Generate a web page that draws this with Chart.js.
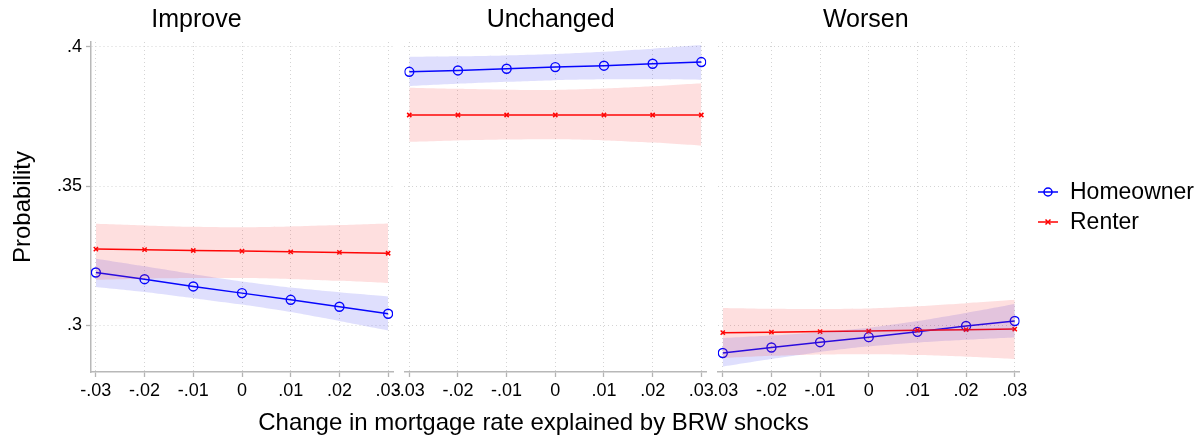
<!DOCTYPE html>
<html>
<head>
<meta charset="utf-8">
<script src="https://cdn.jsdelivr.net/npm/chart.js@4"></script>
<style>
  body { margin: 0; background: #fff; }
  #wrap { position: relative; width: 1204px; height: 442px; font-family: "Liberation Sans", Arial, sans-serif; }
  canvas { position: absolute; top: 0; }
  #xtitle { position: absolute; left: 0; width: 1067px; top: 408px; text-align: center; font-size: 24px; color: #000; }
</style>
</head>
<body>
<div id="wrap">
  <canvas id="improve" style="left:0px" width="400" height="442"></canvas>
  <canvas id="unchanged" style="left:395px" width="320" height="442"></canvas>
  <canvas id="worsen" style="left:712px" width="492" height="442"></canvas>
  <div id="xtitle">Change in mortgage rate explained by BRW shocks</div>
</div>
<script>
const xValues = [-0.03, -0.02, -0.01, 0, 0.01, 0.02, 0.03];
const xTickLabels = ['-.03', '-.02', '-.01', '0', '.01', '.02', '.03'];
const yTicks = [0.3, 0.35, 0.4];
const yTickLabels = ['.3', '.35', '.4'];
const panelTitles = ['Improve', 'Unchanged', 'Worsen'];
const seriesNames = ['Homeowner', 'Renter'];

// Improve
const improveOwner = [0.3190, 0.3166, 0.3140, 0.3116, 0.3092, 0.3067, 0.3042];
const improveOwnerLo = [0.3138, 0.3120, 0.3098, 0.3075, 0.3048, 0.3016, 0.2982];
const improveOwnerHi = [0.3239, 0.3212, 0.3184, 0.3158, 0.3136, 0.3119, 0.3104];
const improveRenter = [0.3274, 0.3272, 0.3269, 0.3267, 0.3264, 0.3262, 0.3259];
const improveRenterLo = [0.3164, 0.3168, 0.3170, 0.3170, 0.3166, 0.3160, 0.3152];
const improveRenterHi = [0.3365, 0.3359, 0.3354, 0.3352, 0.3355, 0.3360, 0.3366];

// Unchanged
const unchOwner = [0.3910, 0.3915, 0.3921, 0.3927, 0.3932, 0.3939, 0.3945];
const unchOwnerLo = [0.3859, 0.3867, 0.3874, 0.3880, 0.3883, 0.3883, 0.3881];
const unchOwnerHi = [0.3964, 0.3966, 0.3969, 0.3974, 0.3982, 0.3993, 0.4006];
const unchRenter = [0.3755, 0.3755, 0.3755, 0.3755, 0.3755, 0.3755, 0.3755];
const unchRenterLo = [0.3659, 0.3664, 0.3667, 0.3668, 0.3664, 0.3656, 0.3645];
const unchRenterHi = [0.3853, 0.3849, 0.3846, 0.3845, 0.3850, 0.3858, 0.3869];

// Worsen
const worsOwner = [0.2901, 0.2921, 0.2940, 0.2958, 0.2977, 0.2998, 0.3016];
const worsOwnerLo = [0.2853, 0.2880, 0.2905, 0.2925, 0.2939, 0.2949, 0.2957];
const worsOwnerHi = [0.2955, 0.2964, 0.2976, 0.2992, 0.3016, 0.3045, 0.3077];
const worsRenter = [0.2974, 0.2976, 0.2978, 0.2980, 0.2983, 0.2985, 0.2987];
const worsRenterLo = [0.2883, 0.2891, 0.2896, 0.2897, 0.2894, 0.2888, 0.2880];
const worsRenterHi = [0.3063, 0.3060, 0.3059, 0.3061, 0.3069, 0.3080, 0.3092];

const FONT = '"Liberation Sans", Arial, sans-serif';
const blue = '#0000ff';
const red = '#ff0000';
const blueBand = 'rgba(40, 40, 240, 0.15)';
const redBand = 'rgba(245, 40, 40, 0.15)';

function pts(arr) {
  return xValues.map((x, i) => ({ x: x, y: arr[i] }));
}

function bandSets(lo, hi, color) {
  return [
    { data: pts(hi), borderWidth: 0, pointRadius: 0, backgroundColor: color, fill: '+1', tension: 0.2 },
    { data: pts(lo), borderWidth: 0, pointRadius: 0, fill: false, tension: 0.2 }
  ];
}

// legend drawn next to the last panel
const legendPlugin = {
  id: 'sideLegend',
  afterDraw(chart) {
    if (!chart.options.plugins.sideLegend || !chart.options.plugins.sideLegend.show) return;
    const ctx = chart.ctx;
    const x0 = 326, x1 = 346, tx = 358;
    const rows = [{ y: 192, c: blue, m: 'circle' }, { y: 222, c: red, m: 'cross' }];
    ctx.save();
    rows.forEach((r, i) => {
      ctx.strokeStyle = r.c;
      ctx.lineWidth = 1.5;
      ctx.beginPath(); ctx.moveTo(x0, r.y); ctx.lineTo(x1, r.y); ctx.stroke();
      const cx = (x0 + x1) / 2;
      ctx.beginPath();
      if (r.m === 'circle') {
        ctx.arc(cx, r.y, 4, 0, Math.PI * 2);
      } else {
        ctx.moveTo(cx - 2.5, r.y - 2.5); ctx.lineTo(cx + 2.5, r.y + 2.5);
        ctx.moveTo(cx + 2.5, r.y - 2.5); ctx.lineTo(cx - 2.5, r.y + 2.5);
      }
      ctx.stroke();
      ctx.fillStyle = '#000';
      ctx.font = '23px ' + FONT;
      ctx.textBaseline = 'middle';
      ctx.textAlign = 'left';
      ctx.fillText(seriesNames[i], tx, r.y + 1);
    });
    ctx.restore();
  }
};

function makePanel(id, idx, owner, ownerLo, ownerHi, renter, renterLo, renterHi, yWidth, padRight, showLegend) {
  const first = idx === 0;
  return new Chart(document.getElementById(id), {
    type: 'line',
    data: {
      datasets: [
        ...bandSets(renterLo, renterHi, redBand),
        ...bandSets(ownerLo, ownerHi, blueBand),
        {
          label: seriesNames[1], data: pts(renter), borderColor: red, borderWidth: 1.5,
          pointStyle: 'crossRot', pointRadius: 3, pointBorderColor: red, pointBorderWidth: 1.5, fill: false, tension: 0
        },
        {
          label: seriesNames[0], data: pts(owner), borderColor: blue, borderWidth: 1.5,
          pointStyle: 'circle', pointRadius: 4.5, pointBorderColor: blue, pointBackgroundColor: 'rgba(0,0,0,0)',
          pointBorderWidth: 1.4, fill: false, tension: 0
        }
      ]
    },
    options: {
      responsive: false,
      animation: false,
      events: [],
      layout: { padding: { left: 0, right: padRight, top: 0, bottom: 0 } },
      plugins: {
        legend: { display: false },
        tooltip: { enabled: false },
        sideLegend: { show: showLegend },
        title: {
          display: true, text: panelTitles[idx], color: '#000',
          font: { family: FONT, size: 25, weight: 'normal', lineHeight: 1.2 },
          padding: { top: 5, bottom: 7 }
        }
      },
      scales: {
        x: {
          type: 'linear', min: -0.031, max: 0.031,
          afterBuildTicks: s => { s.ticks = xValues.map(v => ({ value: v })); },
          afterFit: s => { s.height = 70; s.paddingLeft = 0; s.paddingRight = 0; },
          ticks: {
            autoSkip: false, maxRotation: 0, padding: 3, color: '#000',
            font: { family: FONT, size: 18 },
            callback: (v, i) => xTickLabels[i]
          },
          grid: { color: '#d4d4d4', lineWidth: 1, tickLength: 5, tickColor: '#b4b4b4', tickWidth: 1.3 },
          border: { display: true, color: '#b8b8b8', width: 1.5, dash: [1, 3] }
        },
        y: {
          min: 0.2833, max: 0.4017,
          afterBuildTicks: s => { s.ticks = yTicks.map(v => ({ value: v })); },
          afterFit: s => { s.width = yWidth; },
          ticks: {
            display: first, padding: 4, color: '#000',
            font: { family: FONT, size: 18 },
            callback: (v, i) => yTickLabels[i]
          },
          title: {
            display: first, text: 'Probability', color: '#000',
            font: { family: FONT, size: 24 }, padding: { top: 9, bottom: 0 }
          },
          grid: { color: '#d4d4d4', lineWidth: 1, drawTicks: first, tickLength: 5, tickColor: '#b4b4b4', tickWidth: 1.3 },
          border: { display: first, color: '#b8b8b8', width: 1.5, dash: [1, 3] }
        }
      }
    },
    plugins: [legendPlugin]
  });
}

makePanel('improve', 0, improveOwner, improveOwnerLo, improveOwnerHi, improveRenter, improveRenterLo, improveRenterHi, 91, 7, false);
makePanel('unchanged', 1, unchOwner, unchOwnerLo, unchOwnerHi, unchRenter, unchRenterLo, unchRenterHi, 9.4, 8.8, false);
makePanel('worsen', 2, worsOwner, worsOwnerLo, worsOwnerHi, worsRenter, worsRenterLo, worsRenterHi, 5.4, 184.4, true);
</script>
</body>
</html>
